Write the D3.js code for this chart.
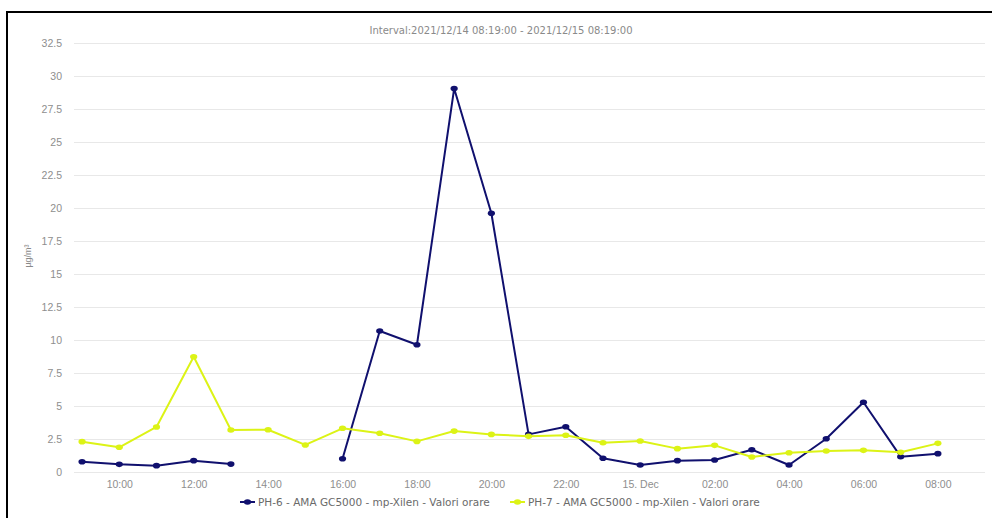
<!DOCTYPE html>
<html>
<head>
<meta charset="utf-8">
<script src="https://cdn.jsdelivr.net/npm/d3@7"></script>
<style>
  html, body { margin: 0; padding: 0; background: #fff; }
  svg { display: block; font-family: "Liberation Sans", Arial, sans-serif; }
</style>
</head>
<body>
<svg id="chart" width="992" height="518"></svg>
<script>
const hours = [
  "2021-12-14T09:00", "2021-12-14T10:00", "2021-12-14T11:00", "2021-12-14T12:00",
  "2021-12-14T13:00", "2021-12-14T14:00", "2021-12-14T15:00", "2021-12-14T16:00",
  "2021-12-14T17:00", "2021-12-14T18:00", "2021-12-14T19:00", "2021-12-14T20:00",
  "2021-12-14T21:00", "2021-12-14T22:00", "2021-12-14T23:00", "2021-12-15T00:00",
  "2021-12-15T01:00", "2021-12-15T02:00", "2021-12-15T03:00", "2021-12-15T04:00",
  "2021-12-15T05:00", "2021-12-15T06:00", "2021-12-15T07:00", "2021-12-15T08:00"
];
const ph6 = [0.78, 0.58, 0.48, 0.86, 0.6, null, null, 1.0, 10.68, 9.64, 29.05, 19.6,
             2.85, 3.43, 1.04, 0.53, 0.86, 0.91, 1.69, 0.53, 2.52, 5.28, 1.16, 1.39];
const ph7 = [2.3, 1.87, 3.41, 8.73, 3.18, 3.2, 2.05, 3.31, 2.93, 2.32, 3.1, 2.85,
             2.7, 2.78, 2.22, 2.35, 1.77, 2.02, 1.14, 1.46, 1.59, 1.64, 1.49, 2.17];
const seriesNames = [
  "PH-6 - AMA GC5000 - mp-Xilen - Valori orare",
  "PH-7 - AMA GC5000 - mp-Xilen - Valori orare"
];
const xExtent = ["2021-12-14T08:47", "2021-12-15T09:16"];
const xTicks = [
  "2021-12-14T10:00", "2021-12-14T12:00", "2021-12-14T14:00", "2021-12-14T16:00",
  "2021-12-14T18:00", "2021-12-14T20:00", "2021-12-14T22:00", "2021-12-15T00:00",
  "2021-12-15T02:00", "2021-12-15T04:00", "2021-12-15T06:00", "2021-12-15T08:00"
];
const yTicks = [0, 2.5, 5, 7.5, 10, 12.5, 15, 17.5, 20, 22.5, 25, 27.5, 30, 32.5];
const title = "Interval:2021/12/14 08:19:00 - 2021/12/15 08:19:00";
const yTitle = "µg/m³";

const colors = ["#10106e", "#dcf316"];
const parse = d3.timeParse("%Y-%m-%dT%H:%M");
const svg = d3.select("#chart");
const W = 992, H = 518;
const m = { left: 74, right: 7, top: 43, bottom: 46 };
const wideFont = "'DejaVu Sans', Verdana, sans-serif";

// outer frame: only top and left edges are visible
svg.append("line").attr("x1", 7).attr("x2", W).attr("y1", 12).attr("y2", 12)
  .attr("stroke", "#000").attr("stroke-width", 2);
svg.append("line").attr("x1", 7).attr("x2", 7).attr("y1", 11).attr("y2", H)
  .attr("stroke", "#000").attr("stroke-width", 2);

const x = d3.scaleTime().domain(xExtent.map(parse)).range([m.left, W - m.right]);
const y = d3.scaleLinear().domain([0, 32.5]).range([H - m.bottom, m.top]);

// grid + y labels
const yAxis = svg.append("g").attr("transform", `translate(${m.left},0)`)
  .call(d3.axisLeft(y).tickValues(yTicks).tickSize(-(W - m.left - m.right))
    .tickPadding(12).tickFormat(d3.format("")));
yAxis.select(".domain").remove();
yAxis.selectAll("line").attr("stroke", "#e8e8e8");
yAxis.selectAll("text").attr("fill", "#8e8e8e").style("font-size", "10.5px");

// x labels
const fmtTick = d => d.getHours() === 0 ? d3.timeFormat("%-d. %b")(d) : d3.timeFormat("%H:%M")(d);
const xAxis = svg.append("g").attr("transform", `translate(0,${H - m.bottom})`)
  .call(d3.axisBottom(x).tickValues(xTicks.map(parse)).tickSize(0).tickPadding(9).tickFormat(fmtTick));
xAxis.select(".domain").remove();
xAxis.selectAll("text").attr("fill", "#8e8e8e").style("font-size", "10.5px");

// title
svg.append("text").attr("x", 501).attr("y", 34).attr("text-anchor", "middle")
  .attr("fill", "#8a8a8a").style("font-family", wideFont).style("font-size", "10px").text(title);

// y title
svg.append("text").attr("transform", "translate(31,256) rotate(-90)")
  .attr("text-anchor", "middle").attr("fill", "#8a8a8a").style("font-size", "9px").text(yTitle);

// series
[ph6, ph7].forEach((vals, i) => {
  const pts = hours.map((h, j) => ({ t: parse(h), v: vals[j] }));
  const line = d3.line().defined(d => d.v !== null).x(d => x(d.t)).y(d => y(d.v));
  svg.append("path").datum(pts).attr("fill", "none").attr("stroke", colors[i])
    .attr("stroke-width", 2).attr("stroke-linejoin", "round").attr("d", line);
  svg.append("g").selectAll("ellipse").data(pts.filter(d => d.v !== null)).join("ellipse")
    .attr("cx", d => x(d.t)).attr("cy", d => y(d.v)).attr("rx", 3.6).attr("ry", 2.8)
    .attr("fill", colors[i]);
});

// legend
const legendX = [240, 510];
seriesNames.forEach((name, i) => {
  const g = svg.append("g").attr("transform", `translate(${legendX[i]},502)`);
  g.append("line").attr("x1", 0).attr("x2", 15).attr("stroke", colors[i]).attr("stroke-width", 2);
  g.append("ellipse").attr("cx", 7.5).attr("rx", 3.6).attr("ry", 2.8).attr("fill", colors[i]);
  g.append("text").attr("x", 18).attr("dy", "0.35em").attr("fill", "#6a6a6a")
    .style("font-family", wideFont).style("font-size", "10.5px").text(name);
});
</script>
</body>
</html>
